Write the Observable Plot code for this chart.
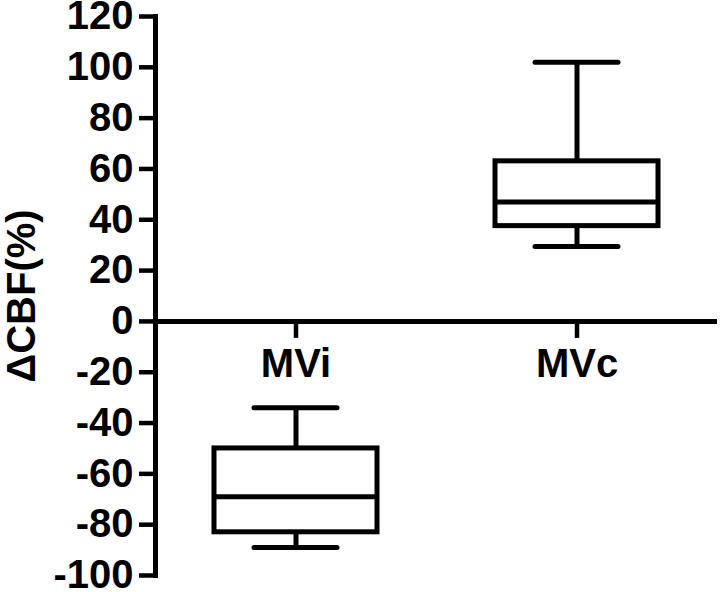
<!DOCTYPE html>
<html>
<head>
<meta charset="utf-8">
<script src="https://cdn.jsdelivr.net/npm/d3@7"></script>
<script src="https://cdn.jsdelivr.net/npm/@observablehq/plot@0.6"></script>
<style>
  html, body { margin: 0; padding: 0; background: white; }
</style>
</head>
<body>
<div id="chart"></div>
<script>
const categories = ["MVi", "MVc"];
const whiskerLow = [-89, 29.5];
const q1 = [-83, 37.5];
const median = [-69, 47];
const q3 = [-50, 63];
const whiskerHigh = [-34, 102];
const yTicks = [-100, -80, -60, -40, -20, 0, 20, 40, 60, 80, 100, 120];
const yLabel = "ΔCBF(%)";

const data = categories.map((c, i) => ({
  cat: c, lo: whiskerLow[i], q1: q1[i], med: median[i], q3: q3[i], hi: whiskerHigh[i]
}));

const chart = Plot.plot({
  width: 720,
  height: 592,
  marginLeft: 155,
  marginRight: 3,
  marginTop: 16,
  marginBottom: 17,
  style: {fontFamily: "'Liberation Sans', Arial, sans-serif", fontWeight: "bold", color: "black", background: "white", overflow: "visible"},
  x: {domain: categories, type: "band", padding: 0, axis: null},
  y: {domain: [-100, 120], axis: null},
  marks: [
    Plot.axisY(yTicks, {tickSize: 16, strokeWidth: 4.5, fontSize: 40, tickPadding: 6, label: null, tickFormat: d => String(d)}),
    Plot.frame({anchor: "left", strokeWidth: 5}),
    Plot.ruleY([0], {strokeWidth: 5}),
    Plot.ruleX(categories, {x: d => d, y1: 0, y2: 0, insetBottom: -17, strokeWidth: 4.5}),
    Plot.text(categories, {x: d => d, y: 0, dy: 43, fontSize: 40, fontWeight: "bold", fill: "black"}),
    Plot.text([yLabel], {frameAnchor: "left", textAnchor: "middle", rotate: -90, dx: -133, fontSize: 40, fontWeight: "bold", fill: "black"}),
    Plot.ruleX(data, {x: "cat", y1: "lo", y2: "q1", strokeWidth: 5}),
    Plot.ruleX(data, {x: "cat", y1: "q3", y2: "hi", strokeWidth: 5}),
    Plot.tickY(data, {x: "cat", y: "lo", insetLeft: 99, insetRight: 99, strokeWidth: 5, strokeLinecap: "round"}),
    Plot.tickY(data, {x: "cat", y: "hi", insetLeft: 99, insetRight: 99, strokeWidth: 5, strokeLinecap: "round"}),
    Plot.rect(data, {x: "cat", y1: "q1", y2: "q3", insetLeft: 59, insetRight: 59, fill: "white", stroke: "black", strokeWidth: 5}),
    Plot.tickY(data, {x: "cat", y: "med", insetLeft: 59, insetRight: 59, strokeWidth: 5})
  ]
});
document.getElementById("chart").appendChild(chart);
</script>
</body>
</html>
